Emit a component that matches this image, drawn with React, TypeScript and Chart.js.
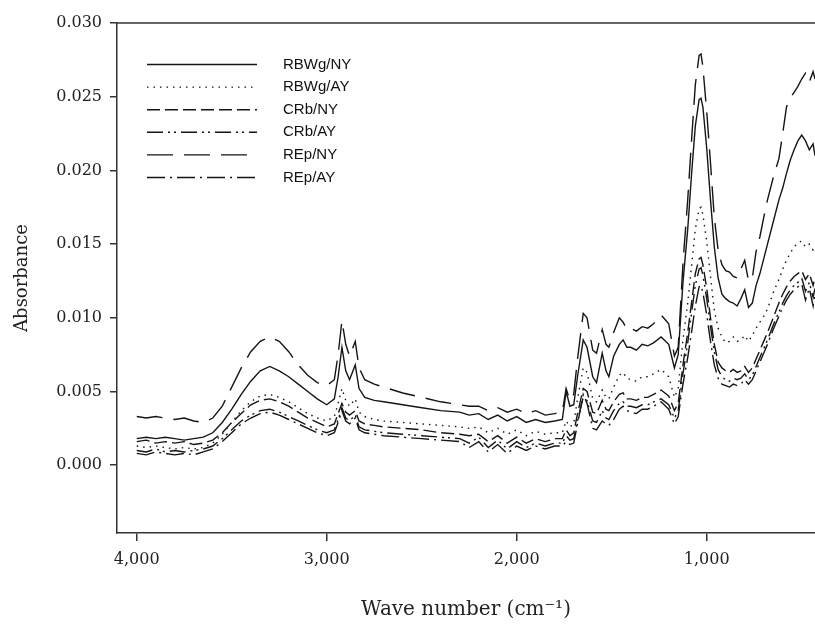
import React, { useEffect, useRef } from "react";
import { Chart, registerables } from "chart.js";

Chart.register(...registerables);

// Wavenumber grid (cm^-1), shared by all spectra
const wavenumbers = [
  4000, 3950, 3900, 3850, 3800, 3750, 3700, 3650, 3600, 3550,
  3500, 3450, 3400, 3350, 3300, 3250, 3200, 3150, 3100, 3050,
  3000, 2960, 2940, 2920, 2900, 2880, 2850, 2830, 2800, 2750,
  2700, 2600, 2500, 2400, 2300, 2250, 2200, 2150, 2100, 2050,
  2000, 1950, 1900, 1850, 1800, 1760, 1740, 1720, 1700, 1680,
  1650, 1630, 1600, 1580, 1550, 1530, 1515, 1490, 1460, 1440,
  1420, 1400, 1370, 1340, 1310, 1280, 1240, 1200, 1170, 1150,
  1125, 1100, 1080, 1060, 1040, 1030, 1020, 1000, 980, 960,
  940, 920, 900, 880, 860, 840, 820, 800, 780, 760,
  740, 720, 700, 680, 650, 620, 600, 580, 560, 540,
  520, 500, 480, 460, 440, 430,
];

const seriesLabels = ["RBWg/NY", "RBWg/AY", "CRb/NY", "CRb/AY", "REp/NY", "REp/AY"];

const rbwgNY = [
  0.0018, 0.0019, 0.0018, 0.0019, 0.0018, 0.0017, 0.0018, 0.0019, 0.0022, 0.0029,
  0.0038, 0.0048, 0.0057, 0.0064, 0.0067, 0.0064, 0.0060, 0.0055, 0.0050, 0.0045,
  0.0041, 0.0045, 0.0060, 0.0080, 0.0064, 0.0058, 0.0068, 0.0052, 0.0046, 0.0044,
  0.0043, 0.0041, 0.0039, 0.0037, 0.0036, 0.0034, 0.0035, 0.0031, 0.0034, 0.0030,
  0.0033, 0.0029, 0.0031, 0.0029, 0.0030, 0.0031, 0.0050, 0.0040, 0.0041, 0.0060,
  0.0085, 0.0080, 0.0060, 0.0056, 0.0076, 0.0064, 0.0060, 0.0074, 0.0082, 0.0085,
  0.0080, 0.0080, 0.0078, 0.0082, 0.0081, 0.0083, 0.0087, 0.0082, 0.0066, 0.0075,
  0.0124, 0.0160, 0.0197, 0.0230, 0.0248, 0.0249, 0.0243, 0.0215, 0.0180, 0.0148,
  0.0127, 0.0116, 0.0113, 0.0111, 0.0110, 0.0108, 0.0113, 0.0119, 0.0107, 0.0110,
  0.0122, 0.0130, 0.0140, 0.0150, 0.0165, 0.0180, 0.0188, 0.0198, 0.0207, 0.0214,
  0.0220, 0.0224, 0.0220, 0.0214, 0.0218, 0.0210,
];

const rbwgAY = [
  0.0013, 0.0012, 0.0013, 0.0012, 0.0011, 0.0012, 0.0011, 0.0012, 0.0015, 0.0021,
  0.0029, 0.0037, 0.0043, 0.0047, 0.0048, 0.0046, 0.0043, 0.0039, 0.0035, 0.0032,
  0.0030, 0.0033, 0.0042, 0.0052, 0.0044, 0.0040, 0.0045, 0.0036, 0.0033, 0.0031,
  0.0030, 0.0029, 0.0028, 0.0027, 0.0026, 0.0025, 0.0026, 0.0022, 0.0025, 0.0021,
  0.0024, 0.0020, 0.0023, 0.0021, 0.0022, 0.0022, 0.0030, 0.0026, 0.0028, 0.0045,
  0.0066, 0.0063, 0.0045, 0.0043, 0.0051, 0.0046, 0.0045, 0.0053, 0.0061, 0.0063,
  0.0059, 0.0058, 0.0057, 0.0060, 0.0060, 0.0062, 0.0065, 0.0060, 0.0046, 0.0052,
  0.0085, 0.0110, 0.0135, 0.0160, 0.0174, 0.0175, 0.0170, 0.0152, 0.0128, 0.0105,
  0.0093, 0.0087, 0.0083, 0.0084, 0.0087, 0.0084, 0.0085, 0.0088, 0.0084, 0.0088,
  0.0093, 0.0097, 0.0101, 0.0106, 0.0117, 0.0126, 0.0133, 0.0139, 0.0144, 0.0148,
  0.0151, 0.0152, 0.0148, 0.0150, 0.0146, 0.0148,
];

const crbNY = [
  0.0016, 0.0017, 0.0015, 0.0016, 0.0015, 0.0016, 0.0014, 0.0015, 0.0017, 0.0022,
  0.0029, 0.0035, 0.0041, 0.0044, 0.0045, 0.0043, 0.0040, 0.0036, 0.0032, 0.0029,
  0.0026, 0.0028, 0.0035, 0.0042, 0.0036, 0.0034, 0.0037, 0.0030, 0.0028, 0.0027,
  0.0026, 0.0025, 0.0024, 0.0022, 0.0021, 0.0020, 0.0021, 0.0016, 0.0020, 0.0015,
  0.0019, 0.0015, 0.0018, 0.0016, 0.0018, 0.0018, 0.0024, 0.0020, 0.0022, 0.0035,
  0.0052, 0.0050, 0.0036, 0.0035, 0.0044, 0.0038, 0.0037, 0.0043, 0.0048, 0.0049,
  0.0045, 0.0045, 0.0044, 0.0046, 0.0046, 0.0048, 0.0051, 0.0047, 0.0037, 0.0042,
  0.0068, 0.0090, 0.0110, 0.0130, 0.0140, 0.0141, 0.0136, 0.0120, 0.0100, 0.0082,
  0.0070, 0.0066, 0.0064, 0.0063, 0.0065, 0.0063, 0.0064, 0.0067, 0.0063, 0.0066,
  0.0072, 0.0078, 0.0084, 0.0090, 0.0100, 0.0110, 0.0116, 0.0121, 0.0125, 0.0128,
  0.0130, 0.0132, 0.0126, 0.0130, 0.0122, 0.0127,
];

const crbAY = [
  0.0010, 0.0009, 0.0011, 0.0009, 0.0010, 0.0009, 0.0010, 0.0011, 0.0013, 0.0018,
  0.0024, 0.0030, 0.0034, 0.0037, 0.0038, 0.0036, 0.0033, 0.0030, 0.0027, 0.0024,
  0.0022, 0.0024, 0.0031, 0.0039, 0.0032, 0.0030, 0.0034, 0.0026, 0.0024, 0.0023,
  0.0022, 0.0021, 0.0020, 0.0019, 0.0018, 0.0015, 0.0019, 0.0012, 0.0017, 0.0011,
  0.0016, 0.0012, 0.0015, 0.0013, 0.0015, 0.0015, 0.0020, 0.0017, 0.0018, 0.0030,
  0.0046, 0.0044, 0.0030, 0.0029, 0.0037, 0.0032, 0.0031, 0.0037, 0.0042, 0.0043,
  0.0040, 0.0040, 0.0039, 0.0041, 0.0041, 0.0043, 0.0045, 0.0041, 0.0032, 0.0037,
  0.0062, 0.0083, 0.0103, 0.0122, 0.0133, 0.0134, 0.0129, 0.0113, 0.0094, 0.0077,
  0.0065, 0.0060, 0.0058, 0.0057, 0.0059, 0.0058, 0.0059, 0.0062, 0.0058, 0.0061,
  0.0067, 0.0073, 0.0079, 0.0085, 0.0095, 0.0104, 0.0110, 0.0115, 0.0119, 0.0122,
  0.0124, 0.0127, 0.0118, 0.0124, 0.0114, 0.0120,
];

const repNY = [
  0.0033, 0.0032, 0.0033, 0.0032, 0.0031, 0.0032, 0.0030, 0.0029, 0.0032, 0.0040,
  0.0053, 0.0066, 0.0077, 0.0084, 0.0087, 0.0084, 0.0077, 0.0068, 0.0061, 0.0056,
  0.0054, 0.0058, 0.0075, 0.0098, 0.0082, 0.0074, 0.0084, 0.0066, 0.0058, 0.0055,
  0.0053, 0.0049, 0.0046, 0.0043, 0.0041, 0.0040, 0.0040, 0.0037, 0.0039, 0.0036,
  0.0038, 0.0035, 0.0037, 0.0034, 0.0035, 0.0036, 0.0052, 0.0044, 0.0048, 0.0072,
  0.0103, 0.0100, 0.0078, 0.0076, 0.0092, 0.0082, 0.0080, 0.0090, 0.0100, 0.0097,
  0.0092, 0.0093, 0.0091, 0.0094, 0.0093, 0.0096, 0.0102, 0.0096, 0.0074, 0.0080,
  0.0137, 0.0180, 0.0220, 0.0258, 0.0278, 0.0279, 0.0270, 0.0240, 0.0205, 0.0168,
  0.0146, 0.0136, 0.0132, 0.0131, 0.0128, 0.0127, 0.0133, 0.0139, 0.0125, 0.0127,
  0.0145, 0.0155, 0.0168, 0.0180, 0.0195, 0.0208, 0.0225, 0.0243, 0.0249, 0.0253,
  0.0257, 0.0262, 0.0266, 0.0260, 0.0267, 0.0262,
];

const repAY = [
  0.0008, 0.0007, 0.0009, 0.0008, 0.0007, 0.0008, 0.0007, 0.0009, 0.0011, 0.0016,
  0.0022, 0.0028, 0.0032, 0.0035, 0.0036, 0.0034, 0.0031, 0.0028, 0.0025, 0.0022,
  0.0020, 0.0022, 0.0029, 0.0037, 0.0030, 0.0028, 0.0032, 0.0024, 0.0022, 0.0021,
  0.0020, 0.0019, 0.0018, 0.0017, 0.0016, 0.0012, 0.0016, 0.0009, 0.0014, 0.0008,
  0.0013, 0.0010, 0.0013, 0.0011, 0.0013, 0.0013, 0.0016, 0.0014, 0.0015, 0.0028,
  0.0048, 0.0042, 0.0025, 0.0024, 0.0030, 0.0028, 0.0027, 0.0031, 0.0038, 0.0040,
  0.0037, 0.0036, 0.0035, 0.0038, 0.0038, 0.0040, 0.0043, 0.0038, 0.0028, 0.0033,
  0.0055, 0.0073, 0.0090, 0.0108, 0.0121, 0.0122, 0.0117, 0.0102, 0.0084, 0.0068,
  0.0059, 0.0055, 0.0054, 0.0053, 0.0055, 0.0054, 0.0055, 0.0058, 0.0055, 0.0058,
  0.0064, 0.0070, 0.0076, 0.0082, 0.0092, 0.0101, 0.0107, 0.0112, 0.0116, 0.0119,
  0.0121, 0.0123, 0.0112, 0.0120, 0.0108, 0.0116,
];

const xTickValues = [4000, 3000, 2000, 1000];
const yTickValues = [0, 0.005, 0.01, 0.015, 0.02, 0.025, 0.03];

const seriesValues = [rbwgNY, rbwgAY, crbNY, crbAY, repNY, repAY];
const seriesDashes: number[][] = [
  [],
  [1.5, 5],
  [13, 5],
  [16, 5, 2, 4, 2, 5],
  [26, 11],
  [18, 5, 2, 5],
];

const toPoints = (vals: number[]) =>
  wavenumbers.slice(0, vals.length).map((w, i) => ({ x: w, y: vals[i] }));

const frameLegendPlugin = {
  id: "frameLegend",
  afterDraw(chart: any) {
    const { ctx, chartArea: a } = chart;
    ctx.save();
    ctx.strokeStyle = "#333";
    ctx.lineWidth = 1.5;
    ctx.setLineDash([]);
    ctx.beginPath();
    ctx.moveTo(a.left, a.top);
    ctx.lineTo(a.right, a.top);
    ctx.stroke();

    chart.data.datasets.forEach((ds: any, i: number) => {
      const y = a.top + 41.5 + i * 22.6;
      ctx.setLineDash(ds.borderDash || []);
      ctx.strokeStyle = ds.borderColor;
      ctx.lineWidth = ds.borderWidth;
      ctx.beginPath();
      ctx.moveTo(a.left + 30, y);
      ctx.lineTo(a.left + 140, y);
      ctx.stroke();
      ctx.setLineDash([]);
      ctx.fillStyle = "#111";
      ctx.font = '15px "Liberation Sans", Arial, sans-serif';
      ctx.textBaseline = "middle";
      ctx.textAlign = "left";
      ctx.fillText(ds.label, a.left + 166, y);
    });
    ctx.restore();
  },
};

export default function App() {
  const canvasRef = useRef<HTMLCanvasElement | null>(null);

  useEffect(() => {
    document.body.style.margin = "0";
    const canvas = canvasRef.current;
    if (!canvas) return;

    const datasets = seriesLabels.map((label, i) => ({
      label,
      data: toPoints(seriesValues[i]),
      borderColor: "#151515",
      borderWidth: 1.4,
      borderDash: seriesDashes[i],
      pointRadius: 0,
      tension: 0,
      fill: false,
    }));

    const chart = new Chart(canvas, {
      type: "line",
      data: { datasets },
      plugins: [frameLegendPlugin],
      options: {
        animation: false,
        responsive: false,
        maintainAspectRatio: false,
        layout: { padding: { top: 23, left: 0, right: 0, bottom: 0 } },
        plugins: {
          legend: { display: false },
          tooltip: { enabled: false },
        },
        scales: {
          x: {
            type: "linear",
            reverse: true,
            min: 430,
            max: 4104,
            afterBuildTicks: (scale: any) => {
              scale.ticks = xTickValues.map((v) => ({ value: v }));
            },
            afterFit: (scale: any) => {
              scale.height = 93;
              scale.paddingLeft = 0;
              scale.paddingRight = 0;
            },
            ticks: {
              color: "#222",
              font: { family: '"DejaVu Serif", serif', size: 16 },
              padding: 9,
              maxRotation: 0,
              callback: (v: any) => Number(v).toLocaleString("en-US"),
            },
            grid: {
              drawOnChartArea: false,
              drawTicks: true,
              tickLength: 8,
              color: "#333",
              lineWidth: 1.5,
            },
            border: { display: true, color: "#333", width: 1.5 },
            title: {
              display: true,
              text: "Wave number (cm\u207B\u00B9)",
              color: "#222",
              font: { family: '"DejaVu Serif", serif', size: 20 },
              padding: { top: 0, bottom: 4 },
            },
          },
          y: {
            type: "linear",
            min: -0.0046,
            max: 0.03,
            afterBuildTicks: (scale: any) => {
              scale.ticks = yTickValues.map((v) => ({ value: v }));
            },
            afterFit: (scale: any) => {
              scale.width = 117;
              scale.paddingTop = 0;
              scale.paddingBottom = 0;
            },
            ticks: {
              color: "#222",
              font: { family: '"DejaVu Serif", serif', size: 16 },
              padding: 8,
              callback: (v: any) => Number(v).toFixed(3),
            },
            grid: {
              drawOnChartArea: false,
              drawTicks: true,
              tickLength: 7,
              color: "#333",
              lineWidth: 1.5,
            },
            border: { display: true, color: "#333", width: 1.5 },
            title: {
              display: true,
              text: "Absorbance",
              color: "#222",
              font: { family: '"DejaVu Serif", serif', size: 18 },
              padding: { top: 12, bottom: 0 },
            },
          },
        },
      },
    });

    return () => chart.destroy();
  }, []);

  return (
    <div style={{ width: 815, height: 626 }}>
      <canvas ref={canvasRef} width={815} height={626} style={{ display: "block" }} />
    </div>
  );
}
